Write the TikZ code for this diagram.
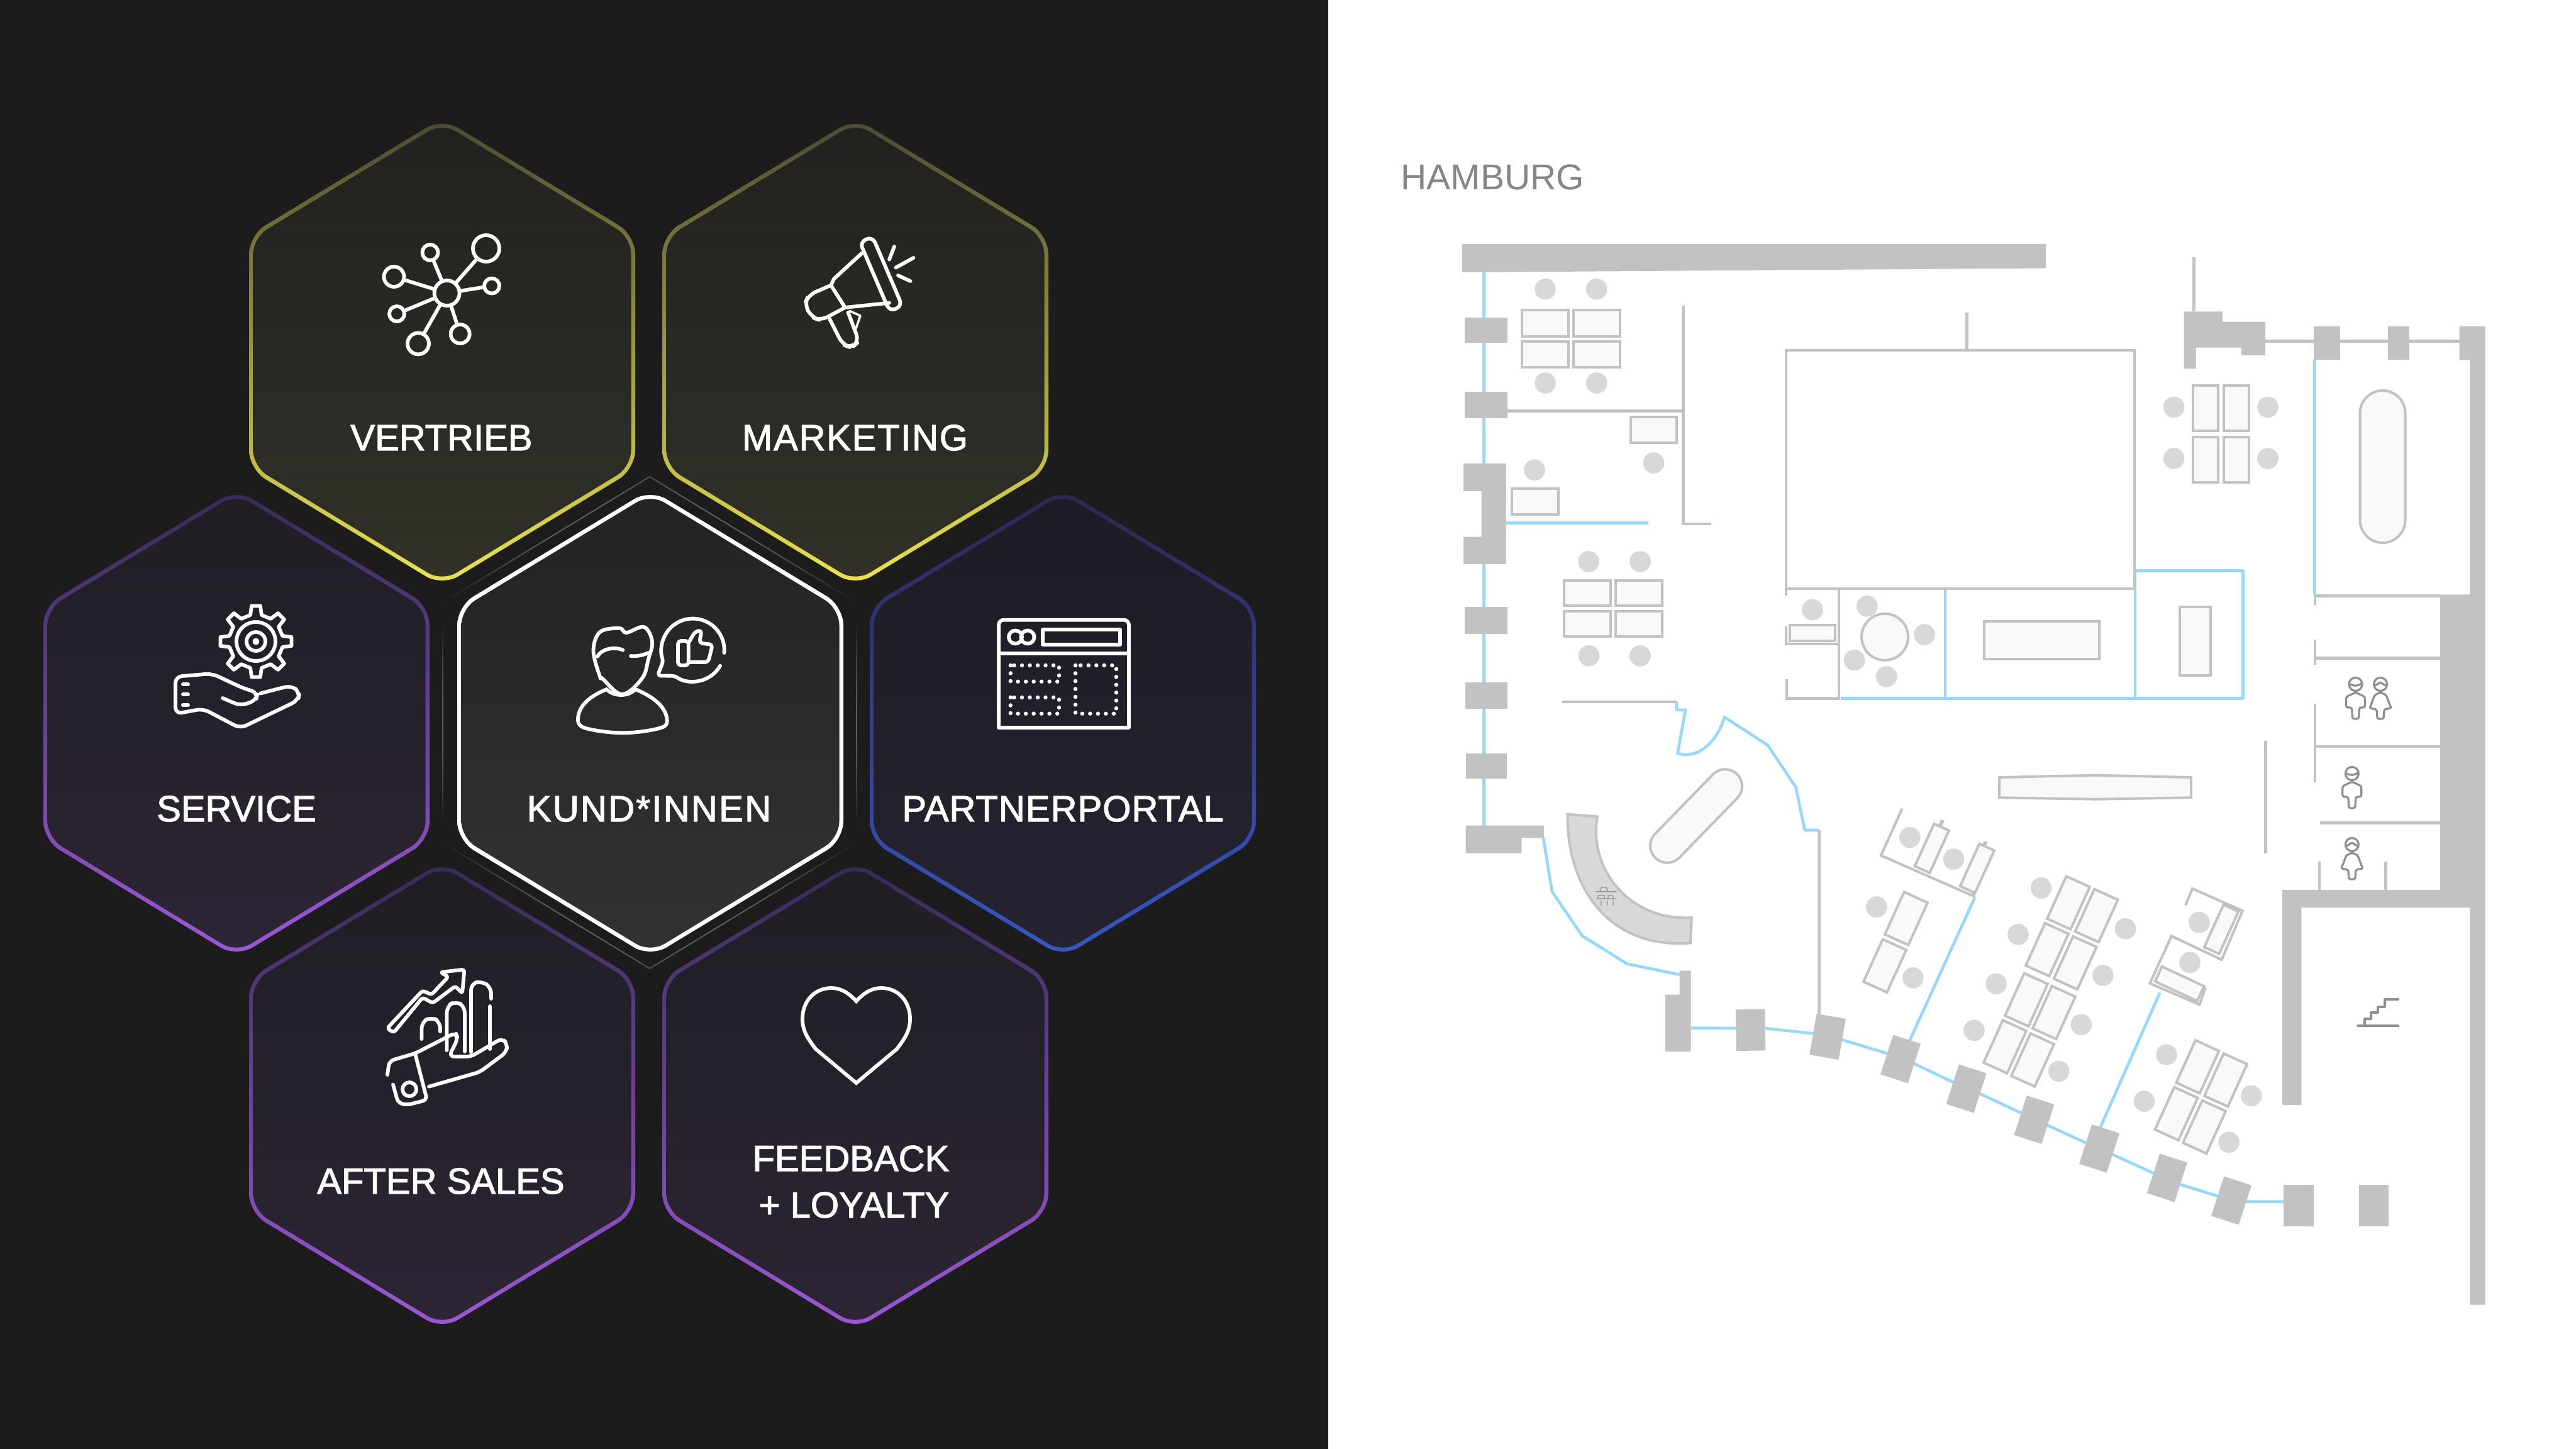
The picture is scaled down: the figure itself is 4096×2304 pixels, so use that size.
\documentclass[tikz,border=0pt]{standalone}
\usepackage{fontspec}
\setmainfont{Liberation Sans}
\newfontfamily\labelfont[FakeBold=2]{Liberation Sans}
\usepackage{xcolor}
\definecolor{panel}{HTML}{1c1c1c}
\definecolor{planwall}{HTML}{c2c2c2}
\definecolor{planglass}{HTML}{93d9ff}
\definecolor{plandesk}{HTML}{f9f9fb}
\definecolor{planchair}{HTML}{d8d8d8}
\definecolor{planicon}{HTML}{8e8e90}
\definecolor{cityname}{HTML}{86868a}
\definecolor{glowline}{HTML}{5e5e52}
\definecolor{yellowa}{HTML}{4a4a32}
\definecolor{yellowb}{HTML}{8a883c}
\definecolor{yellowc}{HTML}{ece44e}
\definecolor{yellowd}{HTML}{21211f}
\definecolor{yellowe}{HTML}{313129}
\definecolor{purplea}{HTML}{362b56}
\definecolor{purpleb}{HTML}{5f4088}
\definecolor{purplec}{HTML}{9c58d6}
\definecolor{purpled}{HTML}{1f1e24}
\definecolor{purplee}{HTML}{2c2534}
\definecolor{bluea}{HTML}{302552}
\definecolor{blueb}{HTML}{3c3a90}
\definecolor{bluec}{HTML}{3458c4}
\definecolor{blued}{HTML}{1d1c24}
\definecolor{bluee}{HTML}{252330}
\definecolor{whited}{HTML}{232322}
\definecolor{whitee}{HTML}{333134}
\usetikzlibrary{calc}

\tikzset{
  yellowring/.style={top color=yellowa, middle color=yellowb, bottom color=yellowc},
  yellowcore/.style={top color=yellowd, bottom color=yellowe},
  purplering/.style={top color=purplea, middle color=purpleb, bottom color=purplec},
  purplecore/.style={top color=purpled, bottom color=purplee},
  bluering/.style={top color=bluea, middle color=blueb, bottom color=bluec},
  bluecore/.style={top color=blued, bottom color=bluee},
  whitering/.style={top color=white, bottom color=white},
  whitecore/.style={top color=whited, bottom color=whitee},
  hexlabel/.style={text=white, anchor=base, inner sep=0pt, font=\labelfont\fontsize{16.5}{21}\selectfont},
  iconline/.style={draw=white, line width=0.058cm, line cap=round, line join=round},
  icondot/.style={circle, draw=white, line width=0.058cm, inner sep=0pt},
  icondots/.style={draw=white, line width=0.065cm, line cap=round, dash pattern=on 0pt off 0.125cm},
  wallfill/.style={fill=planwall},
  wallline/.style={draw=planwall, line width=0.045cm},
  glassline/.style={draw=planglass, line width=0.045cm, line join=round},
  deskbox/.style={draw=planwall, fill=plandesk, line width=0.04cm},
  signline/.style={draw=planicon, line width=0.032cm, line join=round, line cap=round},
}

% hexagon with a ring in a vertical gradient
\newcommand{\hexcell}[3]{
  \shade[#3ring, shift={(#1,#2)}, rounded corners=0.3cm]
    (0,-372) -- (307,-186) -- (307,186) -- (0,372) -- (-307,186) -- (-307,-186) -- cycle;
  \shade[#3core, shift={(#1,#2)}, rounded corners=0.26cm]
    (0,-364.5) -- (300.5,-182) -- (300.5,182) -- (0,364.5) -- (-300.5,182) -- (-300.5,-182) -- cycle;
}
% rotated box, the angle as seen on the page
\newcommand{\planbox}[6][deskbox]{
  \path[#1, shift={(#2,#3)}, rotate=#6] (-#4/2,-#5/2) rectangle (#4/2,#5/2);
}
% faint line around the centre cell
\newcommand{\glowedge}[5]{
  \foreach \i in {0,...,23} {
    \pgfmathsetmacro\amt{100*sin(180*(#5+(1-#5)*(\i+0.5)/24))}
    \draw[color=glowline!\amt!panel, line width=0.02cm]
      ({#1+(#3-#1)*\i/24},{#2+(#4-#2)*\i/24}) -- ({#1+(#3-#1)*(\i+1.1)/24},{#2+(#4-#2)*(\i+1.1)/24});
  }
}
\newcommand{\manfigure}[2]{
  \draw[signline, shift={(#1,#2)}] (0,0) circle[radius=10.5] (-10,-1) .. controls (-3,4) and (4,3) .. (10,-2);
  \draw[signline, shift={(#1,#2)}, rounded corners=0.03cm]
    (-6,37) -- (-15,37) -- (-15,20) -- (0,13) -- (15,20) -- (15,37) -- (6,37) -- (5,55) -- (-5,55) -- cycle;
}
\newcommand{\womanfigure}[2]{
  \draw[signline, shift={(#1,#2)}] (0,0) circle[radius=10.5] (-8,2) -- (0,-3) -- (8,2);
  \draw[signline, shift={(#1,#2)}, rounded corners=0.02cm]
    (-5,55) -- (-6,40) -- (-17,38) -- (-9,17) -- (0,13) -- (9,17) -- (17,38) -- (6,40) -- (5,55) -- cycle;
}

\begin{document}
\begin{tikzpicture}[x=0.01cm, y=-0.01cm]
\useasboundingbox (0,0) rectangle (4096,2304);
\fill[white] (0,0) rectangle (4096,2304);
\fill[panel] (0,0) rectangle (2112,2304);

% hexagons
\hexcell{703}{560}{yellow}
\hexcell{1360}{560}{yellow}
\hexcell{376}{1150}{purple}
\hexcell{1690}{1150}{blue}
\hexcell{703}{1742}{purple}
\hexcell{1360}{1742}{purple}
\hexcell{1034}{1150}{white}

\glowedge{1033}{758}{1362}{958}{0.25}
\glowedge{1033}{758}{704}{958}{0.25}
\glowedge{1033}{1540}{1362}{1340}{0.25}
\glowedge{1033}{1540}{704}{1340}{0.25}
\glowedge{704}{990}{704}{1310}{0}
\glowedge{1362}{990}{1362}{1310}{0}

\node[hexlabel] (vertrieb) at (702,716) {VERTRIEB};
\node[hexlabel] (marketing) at (1359.5,716) {\addfontfeature{LetterSpace=3}MARKETING};
\node[hexlabel] (service) at (376,1306) {SERVICE};
\node[hexlabel] (kunden) at (1032,1306) {\addfontfeature{LetterSpace=4}KUND*INNEN};
\node[hexlabel] (partner) at (1690,1306) {\addfontfeature{LetterSpace=1.8}PARTNERPORTAL};
\node[hexlabel] (aftersales) at (701,1898) {AFTER SALES};
\node[hexlabel, anchor=base east, align=right] (feedback) at (1510,1936) {FEEDBACK\\+ LOYALTY};

% network icon
\node[icondot, minimum size=0.4cm] (hub) at (710.6,466) {};
\foreach \name/\x/\y/\d in {na/773/395/0.42, nb/684/401.5/0.25, nc/626.5/440/0.32, nd/782/454.6/0.24, ne/631/499/0.24, nf/731.7/531/0.3, ng/665/546.4/0.34} {
  \node[icondot, minimum size=\d cm] (\name) at (\x,\y) {};
  \draw[iconline] (hub) -- (\name);
}

% megaphone icon
\planbox[iconline, rounded corners=0.1cm]{1400.9}{435.7}{120}{22}{-66.8}
\draw[iconline] (1370.4,402.6) -- (1326,443.4) -- (1321.3,453.6) -- (1343.7,489) -- (1414,481.6);
\draw[iconline, rounded corners=0.12cm] (1321.3,453.6) -- (1286,469) -- (1279,484) -- (1291,504.6) -- (1305,509.7) -- (1343.7,489);
\draw[iconline, rounded corners=0.12cm] (1319,507) -- (1340,548) -- (1354,553) -- (1366,543) -- (1348.6,497);
\draw[iconline, line width=0.035cm] (1350.8,494.4) -- (1368,502) -- (1361,522.4);
\draw[iconline] (1422,392) -- (1414,412.7) (1452.5,410) -- (1424.4,425.5) (1428,438) -- (1447.6,447);

% gear and hand icon
\draw[iconline, shift={(407,1020)}] (-12:43)
  \foreach \a in {0,45,...,315} { -- (\a-7:57) -- (\a+7:57) -- (\a+12:43) -- (\a+33:43) } -- cycle;
\draw[iconline] (407,1020) circle[radius=31] (407,1020) circle[radius=15] (407,1020) circle[radius=2.5];
\draw[iconline, rounded corners=0.1cm] (354,1110) -- (382,1122) -- (407,1114) -- (410,1101.5) -- (386,1094) -- (337,1071) -- (279,1076)
  -- (279,1135) -- (323,1127) -- (382,1158) -- (473.5,1114) -- (477,1101) -- (463,1090) -- (414,1102.5);
\draw[iconline, line width=0.06cm] (291,1088) -- (299,1088) (291,1104) -- (299,1104) (291,1121) -- (299,1121);

% customer icon
\draw[iconline] plot[smooth cycle, tension=0.6] coordinates {(954,1076) (943.5,1035) (954,1005) (985,999) (996,1006) (1024,997) (1037,1020) (1031,1048) (1021,1078.6) (989,1104) (957.6,1078.6)};
\draw[iconline] (950,1044) .. controls (955,1033) and (975,1027) .. (990.5,1033.7) (1003,1043) .. controls (1012,1044) and (1022,1042) .. (1031,1038);
\draw[iconline] (964.6,1096) .. controls (935,1108) and (918,1125) .. (919,1146) .. controls (920,1156) and (930,1158) .. (940,1160)
  .. controls (975,1167) and (1005,1167) .. (1040,1160) .. controls (1052,1157) and (1061,1156) .. (1060.7,1146)
  .. controls (1060,1125) and (1040,1108) .. (1010,1096) .. controls (1000,1108) and (975,1108) .. (964.6,1096);
\draw[iconline, rounded corners=0.05cm] (1151.5,1038) arc[start angle=-5, end angle=200, radius=0.5cm] -- (1045.6,1074.5) -- (1073,1074.7)
  arc[start angle=235, end angle=330, radius=0.5cm];
\draw[iconline, rounded corners=0.05cm] (1094.7,1019) -- (1078,1019) -- (1078,1058) -- (1094.7,1058) -- cycle
  (1094.7,1022.4) -- (1105,1004.6) -- (1115.7,1002) -- (1112,1022.4) -- (1133,1025) -- (1126,1053) -- (1094.7,1053);

% browser icon
\draw[iconline, rounded corners=0.08cm] (1588,1038.8) -- (1588,985.7) -- (1795,985.7) -- (1795,1038.8);
\draw[iconline] (1588,1038.8) -- (1795,1038.8) -- (1795,1156.6) -- (1588,1156.6) -- cycle;
\node[icondot, minimum size=0.21cm] (linka) at (1614.5,1013) {};
\node[icondot, minimum size=0.21cm] (linkb) at (1634,1013) {};
\draw[iconline] (1658,1001) rectangle (1781,1025);
\draw[icondots] (1606.8,1058) rectangle (1684,1083.7);
\draw[icondots] (1606.8,1109) rectangle (1684,1134.7);
\draw[icondots] (1710,1058) rectangle (1775,1134.7);

% chart and hand icon
\draw[iconline, rounded corners=0.04cm] (615.7,1635) -- (672,1575) -- (686,1581.7) -- (713,1553) -- (700,1546) -- (738.5,1541.5) -- (735,1579.5)
  -- (724,1568) -- (688,1595) -- (672,1586) -- (626,1642) -- cycle;
\draw[iconline, rounded corners=0.1cm] (749,1673) -- (749,1564) -- (766,1560) -- (781,1570) -- (781,1588);
\draw[iconline] (779,1600) -- (779,1668);
\draw[iconline, rounded corners=0.1cm] (710.5,1670) -- (710.5,1600) -- (724,1592) -- (739,1600) -- (739,1672);
\draw[iconline, rounded corners=0.1cm] (670.5,1652) -- (670.5,1625) -- (686,1617) -- (700,1625) -- (700,1640);
\draw[iconline, rounded corners=0.07cm] (625,1724.5) -- (633,1753.6) -- (647,1757) -- (679,1749) -- (660,1675);
\draw[iconline, rounded corners=0.08cm] (616,1709) -- (619,1687) -- (660,1675) -- (724.5,1642) -- (728,1651) -- (714,1680) -- (749,1680) -- (798,1651) -- (807,1660) -- (805,1673) -- (763,1704.5) -- (682,1727.7);
\draw[iconline] (651,1732) circle[radius=11];

% heart icon
\draw[iconline, line join=miter] (1361.5,1592) .. controls (1348,1577) and (1335,1571) .. (1322,1571) .. controls (1295,1571) and (1276,1592) .. (1276,1620)
  .. controls (1276,1640) and (1285,1652) .. (1297,1668) -- (1361.5,1722) -- (1426,1668)
  .. controls (1438,1652) and (1447,1640) .. (1447,1620) .. controls (1447,1592) and (1428,1571) .. (1401,1571) .. controls (1388,1571) and (1375,1577) .. cycle;

% plan: title
\node[text=cityname, anchor=base west, inner sep=0pt, font=\fontsize{16.2}{20}\selectfont] (city) at (2227,302) {HAMBURG};

% plan: glass
\draw[glassline] (2359.6,433) -- (2359.6,1312.5);
\draw[glassline] (2394.6,831.6) -- (2620.8,831.6);
\draw[glassline] (2927,1110.3) -- (3566.3,1110.3) -- (3566.3,907.7) -- (3395,907.7);
\draw[glassline] (3093,936) -- (3093,1110.3) (3395,907.7) -- (3395,1110.3);
\draw[glassline] (3680,572) -- (3680,945.4);
\draw[glassline] (2665.6,1116) -- (2666,1128.8) -- (2680,1128.8) -- (2667.5,1197.7) .. controls (2700,1208) and (2730,1180) .. (2742,1140.3)
  -- (2811,1185) -- (2855.6,1252) -- (2869.6,1320) -- (2892,1320);
\draw[glassline] (2453.8,1332) -- (2467.9,1417.7) -- (2515.7,1487.9) -- (2587,1532.5) -- (2670.7,1549.7);
\draw[glassline] (2688.5,1634.6) -- (2806,1635) -- (2884,1643.5) -- (2928,1653) -- (3000,1674.7) -- (3045,1692) -- (3105.6,1720.7) -- (3148,1739)
  -- (3213.6,1769.6) -- (3255,1788.8) -- (3317,1817.5) -- (3358.4,1835.3) -- (3424,1865.3) -- (3465.6,1883) -- (3528,1902.3) -- (3570.8,1910.6) -- (3631.4,1910.6);
\draw[glassline] (3140,1427) -- (3036.4,1654.8);
\draw[glassline] (3434.3,1578.3) -- (3340,1792);

% plan: walls
\fill[wallfill] (2324.6,388) -- (3253,388) -- (3253,426.5) -- (2324.6,433) -- cycle;
\fill[wallfill] (2329,504.6) rectangle (2397,545.4);
\fill[wallfill] (2329,623.5) rectangle (2397,664.8);
\fill[wallfill] (2329,965) rectangle (2397,1007.6);
\fill[wallfill] (2329.5,1084.8) rectangle (2397,1127);
\fill[wallfill] (2330.7,1197.7) rectangle (2395.8,1238);
\fill[wallfill] (2327,737) -- (2394.6,737) -- (2394.6,897) -- (2327,897) -- (2327,853.6) -- (2355.6,853.6) -- (2355.6,781) -- (2327,781) -- cycle;
\fill[wallfill] (2330.7,1312.5) -- (2455,1312.5) -- (2455,1332.3) -- (2419.4,1332.3) -- (2419.4,1356.5) -- (2330.7,1356.5) -- cycle;
\fill[wallfill] (2670.7,1543.4) -- (2688.5,1543.4) -- (2688.5,1672) -- (2647.7,1672) -- (2647.7,1581.6) -- (2670.7,1581.6) -- cycle;
\fill[wallfill] (3472.6,495.4) -- (3533.8,495.4) -- (3533.8,511.7) -- (3602,511.7) -- (3602,564.8) -- (3563.8,564.8) -- (3563.8,552.6) -- (3491.7,552.6) -- (3491.7,586.2) -- (3472.6,586.2) -- cycle;
\fill[wallfill] (3678.6,518.9) rectangle (3720.7,572.4);
\fill[wallfill] (3797,518.9) rectangle (3831,572.4);
\fill[wallfill] (3631.4,1883.8) rectangle (3678.6,1950);
\fill[wallfill] (3751.3,1883.8) rectangle (3797.8,1950);
\fill[wallfill] (3910.7,519) -- (3951.5,519) -- (3951.5,2074.5) -- (3927.3,2074.5) -- (3927.3,1443) -- (3659.4,1443) -- (3659.4,1757) -- (3628.8,1757)
  -- (3628.8,1415) -- (3880,1415) -- (3880,945.4) -- (3927.3,945.4) -- (3927.3,572.4) -- (3910.7,572.4) -- cycle;
\planbox[wallfill]{2783.5}{1637.7}{46.5}{66}{1}
\planbox[wallfill]{2906}{1648.5}{47}{66}{-9.8}
\foreach \x/\y in {3022/1684, 3126.6/1731, 3234.4/1780.5, 3338/1826.3, 3445.8/1872.8, 3548/1909} {
  \planbox[wallfill]{\x}{\y}{46}{66}{-17.8}
}

% plan: thin walls
\draw[wallline] (2397,653.6) -- (2676.5,653.6);
\draw[wallline] (2676.5,485.7) -- (2676.5,833) -- (2721,833);
\draw[wallline] (2840,947.4) -- (2840,557) -- (3394,557) -- (3394,936) -- (2840,936);
\draw[wallline] (3127.6,497) -- (3127.6,557);
\draw[wallline] (2924,936) -- (2924,1110.3) -- (2841,1110.3) -- (2841,1079.7);
\draw[wallline] (2840,996) -- (2840,1024) -- (2924,1024);
\draw[wallline] (3488.5,409) -- (3488.5,495);
\draw[wallline] (3602,542.3) -- (3910.7,542.3);
\draw[wallline] (3680,947.5) -- (3880,947.5) (3681,947.5) -- (3681,962) (3681,1017) -- (3681,1056.6) (3681,1046.4) -- (3880,1046.4);
\draw[wallline] (3681,1119) -- (3681,1243.5) (3683,1187) -- (3880,1187) (3688.8,1308.5) -- (3880,1308.5);
\draw[wallline] (3688,1370) -- (3688,1415) (3793.4,1370) -- (3793.4,1415) (3602.7,1178.4) -- (3602.7,1357);
\draw[wallline] (2483.8,1116) -- (2665.6,1116);
\draw[wallline] (2892.6,1320) -- (2892.6,1612);
\draw[wallline, line width=0.04cm] (3024.6,1285.7) -- (2990.8,1360.3) -- (3140.7,1426);
\draw[wallline, line width=0.06cm] (3089,1304) -- (3065,1357) (3157,1338) -- (3137,1424);
\draw[wallline, line width=0.04cm] (3475,1439.3) -- (3486,1413) -- (3565.7,1448.2) -- (3532.5,1526) -- (3452.8,1488.4) -- (3418.4,1563.6) -- (3497.4,1597.4) -- (3507,1570);

% plan: chairs
\foreach \x/\y in {2457/459.7, 2538.7/459.7, 2457/609, 2538.7/609, 2629.4/736, 2440/747.4, 2526/893, 2608/893, 2526.5/1042.7, 2608/1042.7,
  2882/969.4, 2968.7/963.8, 3060/1009, 2948.7/1049.7, 2999.7/1075.9, 3456.6/647.4, 3456.6/729, 3605.9/647.4, 3605.9/729,
  3036.7/1331.6, 3106.3/1366, 2983.8/1442, 3041.8/1554.8, 3245.5/1411.9, 3209/1485.8, 3174/1564.3, 3139/1638.3,
  3379.5/1476.9, 3343.8/1550.9, 3309.3/1629.3, 3273.6/1703.3, 3496.8/1466.7, 3482/1530.5, 3445/1677, 3409.4/1751, 3579.7/1742.2, 3544/1816.2} {
  \fill[planchair] (\x,\y) circle[radius=16.8];
}

% plan: desks
\draw[deskbox] (2420,493) rectangle (2494,534.7);
\draw[deskbox] (2502,493) rectangle (2576,534.7);
\draw[deskbox] (2420,542.8) rectangle (2494,584.2);
\draw[deskbox] (2502,542.8) rectangle (2576,584.2);
\draw[deskbox] (2593,663) rectangle (2666.4,704);
\draw[deskbox] (2403.5,777.5) rectangle (2477.6,818.4);
\draw[deskbox] (2487.3,923) rectangle (2560.8,963);
\draw[deskbox] (2569.4,923) rectangle (2643,963);
\draw[deskbox] (2487.3,972.4) rectangle (2560.8,1012);
\draw[deskbox] (2569.4,972.4) rectangle (2643,1012);
\draw[deskbox] (2846,994) rectangle (2918.4,1019);
\draw[deskbox] (2997,1012.8) circle[radius=37];
\draw[deskbox] (3155,988) rectangle (3338,1048.5);
\draw[deskbox] (3465.6,964.8) rectangle (3515,1074.5);
\draw[deskbox] (3486.7,613) rectangle (3526.7,684.7);
\draw[deskbox] (3536.4,613) rectangle (3575.8,684.7);
\draw[deskbox] (3486.7,694.9) rectangle (3526.7,767.4);
\draw[deskbox] (3536.4,694.9) rectangle (3575.8,767.4);
\draw[deskbox] (3179,1236) -- (3331.6,1232.7) -- (3484,1236) -- (3484,1268.3) -- (3331.6,1270.8) -- (3179,1268.3) -- cycle;
\planbox[deskbox, rounded corners=0.36cm]{3788.5}{742}{72}{242}{0}
\planbox[deskbox, rounded corners=0.27cm]{2697}{1297.5}{186}{54}{45.8}
\foreach \x/\y in {3031/1460.5, 2997/1535.7, 3288.9/1435.5, 3333.5/1455.9, 3255/1510, 3299.7/1531, 3222/1589.8, 3266/1610, 3188/1664.4, 3232/1685.5,
  3494.3/1696.3, 3539/1717.3, 3460.5/1770.9, 3505/1792} {
  \planbox{\x}{\y}{74}{41}{65.6}
}
\foreach \x/\y in {3071.8/1348.9, 3143.9/1380.7, 3532/1477.6} {
  \planbox{\x}{\y}{74}{26}{65.6}
}
\planbox{3465.6}{1564.3}{74}{26}{-25}

% plan: counter
\draw[wallline, fill=planchair, line width=0.04cm] (2492.7,1294.6) .. controls (2490,1400) and (2550,1510) .. (2687.9,1499.4) -- (2689.8,1459)
  .. controls (2590,1465) and (2525,1380) .. (2540,1298.5) -- cycle;
\draw[wallline, line width=0.012cm, draw=planicon] (2538,1417.7) -- (2570,1417.7) (2538,1429) -- (2570,1429) (2544,1417) -- (2546,1411) -- (2554,1411) -- (2556,1417)
  (2541,1429) -- (2541,1424) -- (2551,1424) -- (2551,1429) (2557,1429) -- (2557,1424) -- (2564,1424) -- (2566,1429)
  (2546,1432) -- (2546,1440) (2556,1432) -- (2556,1440) (2565,1432) -- (2565,1440);

% plan: signs
\manfigure{3745.5}{1088}
\womanfigure{3785}{1088}
\manfigure{3739.8}{1230}
\womanfigure{3739.8}{1343}
\draw[signline, line width=0.045cm] (3749.4,1631.2) -- (3813,1631.2);
\draw[signline, line width=0.04cm] (3760,1629) -- (3760,1620) -- (3770,1620) -- (3770,1610) -- (3781,1610) -- (3781,1600.6) -- (3792,1600.6) -- (3792,1589) -- (3813,1589);
\end{tikzpicture}
\end{document}
